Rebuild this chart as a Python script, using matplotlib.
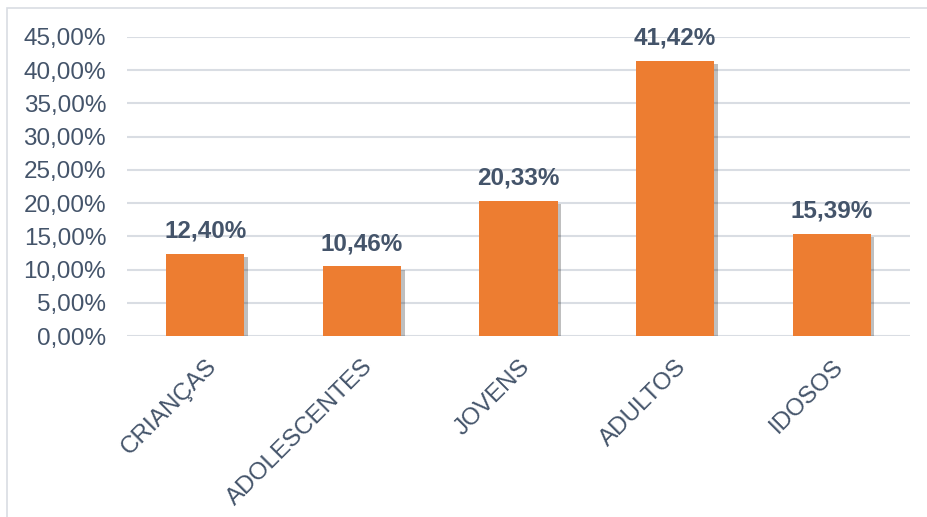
import matplotlib
matplotlib.use("Agg")
import matplotlib.pyplot as plt
import matplotlib.patheffects as pe
from matplotlib.patches import Rectangle
from matplotlib.ticker import FuncFormatter, MultipleLocator

categorias = ["CRIANÇAS", "ADOLESCENTES", "JOVENS", "ADULTOS", "IDOSOS"]
percentuais = [12.40, 10.46, 20.33, 41.42, 15.39]

LARANJA = "#ED7D31"
TEXTO = "#44546A"
GRADE = "#D9DDE3"

plt.rcParams["font.family"] = ["Liberation Sans", "DejaVu Sans"]

fig = plt.figure(figsize=(9.27, 5.17), dpi=100)
ax = fig.add_axes([127 / 927, 1 - 336 / 517, (910 - 127) / 927, (336 - 37) / 517])

# moldura do gráfico
fig.patches.append(Rectangle((7 / 927, -0.01), 1.0, 1 - 8 / 517 + 0.01,
                             transform=fig.transFigure, fill=False,
                             edgecolor=GRADE, linewidth=1.2))

x = range(len(categorias))
bars = ax.bar(x, percentuais, width=0.5, color=LARANJA, zorder=3)
for b in bars:
    b.set_path_effects([pe.SimplePatchShadow(offset=(2.5, -2.5), shadow_rgbFace="black", alpha=0.25),
                        pe.Normal()])

for xi, v in zip(x, percentuais):
    ax.annotate(f"{v:.2f}%".replace(".", ","), (xi, v), xytext=(0, 8),
                textcoords="offset points", ha="center", va="bottom",
                fontsize=17.5, fontweight="bold", color=TEXTO)

ax.set_xlim(-0.5, len(categorias) - 0.5)
ax.set_ylim(0, 45)
ax.yaxis.set_major_locator(MultipleLocator(5))
ax.yaxis.set_major_formatter(FuncFormatter(lambda v, p: f"{v:.2f}%".replace(".", ",")))
ax.grid(axis="y", color=GRADE, linewidth=1.5, zorder=0)
ax.set_axisbelow(True)
for s in ax.spines.values():
    s.set_visible(False)

ax.set_xticks(list(x))
ax.set_xticklabels(categorias, rotation=45, ha="right", rotation_mode="anchor",
                   fontsize=17.5, color=TEXTO)
ax.tick_params(axis="y", length=0, labelsize=17.5, labelcolor=TEXTO, pad=15)
ax.tick_params(axis="x", length=0, pad=14)

fig.savefig("out.png", dpi=100)
